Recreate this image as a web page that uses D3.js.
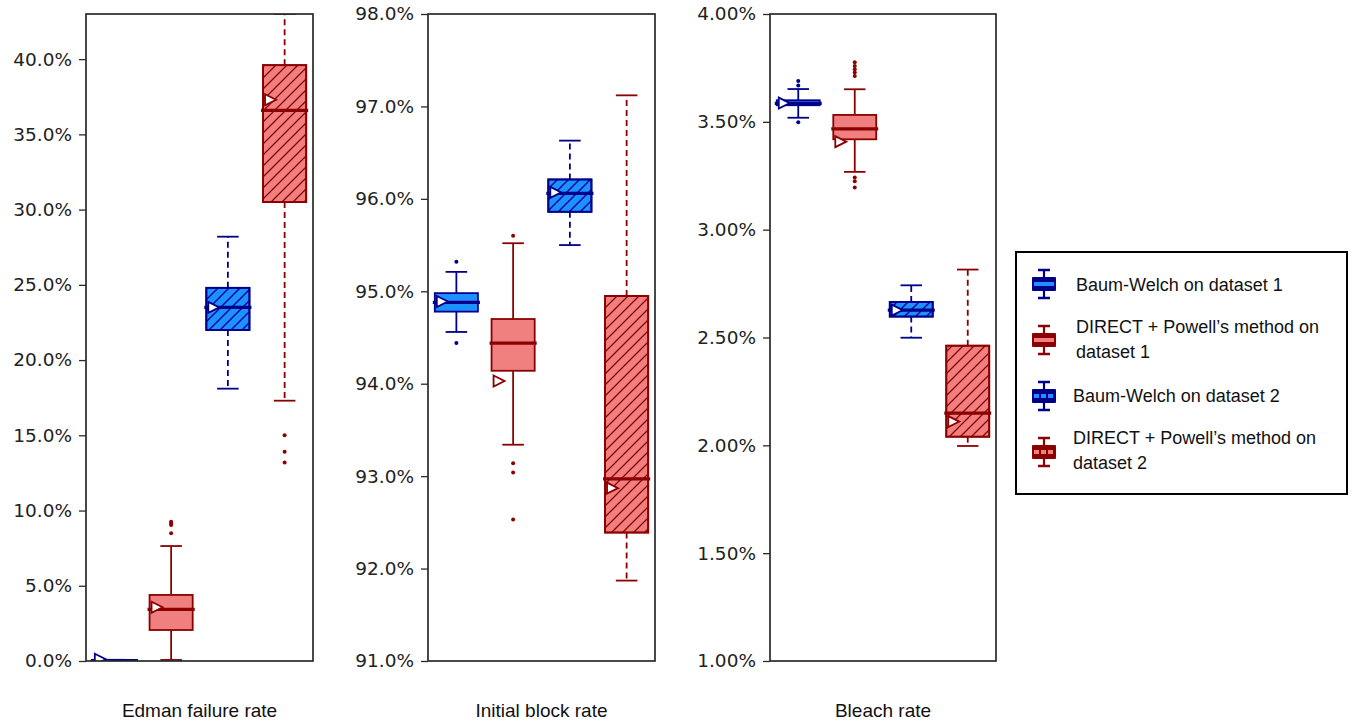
<!DOCTYPE html>
<html>
<head>
<meta charset="utf-8">
<script src="https://cdn.jsdelivr.net/npm/d3@7"></script>
<style>
  html, body { margin: 0; padding: 0; background: #fff; }
  svg { display: block; }
</style>
</head>
<body>
<svg id="chart" width="1357" height="721"></svg>
<script>
// ---------------- data ----------------
const panels = ["Edman failure rate", "Initial block rate", "Bleach rate"];
const seriesNames = [
  "Baum-Welch on dataset 1",
  "DIRECT + Powell\u2019s method on dataset 1",
  "Baum-Welch on dataset 2",
  "DIRECT + Powell\u2019s method on dataset 2"
];
const yDomains = [[0, 43], [91, 98], [1, 4]];
const yTicks = [
  [0, 5, 10, 15, 20, 25, 30, 35, 40],
  [91, 92, 93, 94, 95, 96, 97, 98],
  [1.0, 1.5, 2.0, 2.5, 3.0, 3.5, 4.0]
];
const tickDecimals = [1, 1, 2];

// per panel: [whisker low, Q1, median, Q3, whisker high, mean]  (values in %)
const bw1Stats = [
  [0.0, 0.0, 0.02, 0.05, 0.08, 0.12],
  [94.56, 94.78, 94.88, 94.98, 95.21, 94.89],
  [3.519, 3.577, 3.586, 3.600, 3.652, 3.587]
];
const dp1Stats = [
  [0.07, 2.06, 3.43, 4.39, 7.64, 3.57],
  [93.34, 94.14, 94.44, 94.70, 95.52, 94.03],
  [3.268, 3.419, 3.467, 3.532, 3.651, 3.408]
];
const bw2Stats = [
  [18.1, 22.0, 23.5, 24.8, 28.2, 23.5],
  [95.50, 95.86, 96.06, 96.21, 96.63, 96.07],
  [2.499, 2.597, 2.627, 2.665, 2.742, 2.627]
];
const dp2Stats = [
  [17.3, 30.5, 36.6, 39.6, 43.0, 37.3],
  [91.87, 92.39, 92.97, 94.95, 97.12, 92.87],
  [1.997, 2.040, 2.149, 2.462, 2.815, 2.110]
];
// outliers per panel
const bw1Fliers = [[], [95.32, 94.44], [3.689, 3.668, 3.498]];
const dp1Fliers = [[9.26, 9.15, 9.04, 8.49], [95.60, 93.14, 93.04, 92.53], [3.776, 3.759, 3.744, 3.729, 3.712, 3.242, 3.225, 3.195]];
const bw2Fliers = [[], [], []];
const dp2Fliers = [[15.0, 13.9, 13.2], [], []];

const allStats = [bw1Stats, dp1Stats, bw2Stats, dp2Stats];
const allFliers = [bw1Fliers, dp1Fliers, bw2Fliers, dp2Fliers];
const fillColors = ["#1e90ff", "#f08080", "#1e90ff", "#f08080"];
const edgeColors = ["#00008b", "#8b0000", "#00008b", "#8b0000"];
const hatched = [false, false, true, true];

// ---------------- layout ----------------
const svg = d3.select("#chart");
const panelX = [[86, 313], [428, 655], [770, 996]];
const plotTop = 14, plotBottom = 661;
const defs = svg.append("defs");
[0, 1].forEach(i => {
  const col = i === 0 ? "#00008b" : "#8b0000";
  const p = defs.append("pattern")
    .attr("id", "hatch" + i)
    .attr("patternUnits", "userSpaceOnUse")
    .attr("width", 11).attr("height", 11);
  p.append("path")
    .attr("d", "M-2,2 L2,-2 M0,11 L11,0 M9,13 L13,9")
    .attr("stroke", col).attr("stroke-width", 1.3).attr("fill", "none");
});

panels.forEach((name, pi) => {
  const [x0, x1] = panelX[pi];
  const y = d3.scaleLinear().domain(yDomains[pi]).range([plotBottom, plotTop]);
  const x = d3.scaleBand().domain(d3.range(4)).range([x0, x1]).paddingInner(0.24).paddingOuter(0.12);
  const bw = x.bandwidth();
  const g = svg.append("g");
  const clipId = "clip" + pi;
  defs.append("clipPath").attr("id", clipId)
    .append("rect").attr("x", x0).attr("y", plotTop).attr("width", x1 - x0).attr("height", plotBottom - plotTop);
  const plot = g.append("g").attr("clip-path", `url(#${clipId})`);

  allStats.forEach((stats, si) => {
    const [lo, q1, med, q3, hi, mean] = stats[pi];
    const cx = x(si) + bw / 2;
    const left = x(si), right = x(si) + bw;
    const ec = edgeColors[si], fc = fillColors[si];
    const dash = hatched[si] ? "6,4" : null;
    const sg = plot.append("g");
    // whiskers
    sg.append("line").attr("x1", cx).attr("x2", cx).attr("y1", y(q3)).attr("y2", y(hi))
      .attr("stroke", ec).attr("stroke-width", 1.8).attr("stroke-dasharray", dash);
    sg.append("line").attr("x1", cx).attr("x2", cx).attr("y1", y(q1)).attr("y2", y(lo))
      .attr("stroke", ec).attr("stroke-width", 1.8).attr("stroke-dasharray", dash);
    // caps
    [lo, hi].forEach(v => {
      sg.append("line").attr("x1", cx - bw / 4).attr("x2", cx + bw / 4).attr("y1", y(v)).attr("y2", y(v))
        .attr("stroke", ec).attr("stroke-width", 1.8);
    });
    // box
    sg.append("rect").attr("x", left).attr("y", y(q3)).attr("width", bw).attr("height", Math.max(0, y(q1) - y(q3)))
      .attr("fill", fc).attr("stroke", ec).attr("stroke-width", 1.8);
    if (hatched[si]) {
      sg.append("rect").attr("x", left).attr("y", y(q3)).attr("width", bw).attr("height", Math.max(0, y(q1) - y(q3)))
        .attr("fill", `url(#hatch${si === 2 ? 0 : 1})`).attr("stroke", ec).attr("stroke-width", 1.8);
    }
    // median
    sg.append("line").attr("x1", left - 2).attr("x2", right + 2).attr("y1", y(med)).attr("y2", y(med))
      .attr("stroke", ec).attr("stroke-width", 3.2);
    // fliers
    sg.selectAll("circle.fl").data(allFliers[si][pi]).join("circle")
      .attr("class", "fl").attr("cx", cx).attr("cy", d => y(d)).attr("r", 2).attr("fill", ec);
    // mean marker (right-pointing triangle)
    const mx = left + 7, my = y(mean);
    sg.append("path")
      .attr("d", `M${mx - 5},${my - 5.5} L${mx + 6},${my} L${mx - 5},${my + 5.5} Z`)
      .attr("fill", "#fff").attr("stroke", ec).attr("stroke-width", 1.8).attr("stroke-linejoin", "miter");
  });

  // axes frame
  g.append("rect").attr("x", x0).attr("y", plotTop).attr("width", x1 - x0).attr("height", plotBottom - plotTop)
    .attr("fill", "none").attr("stroke", "#2a2a2a").attr("stroke-width", 1.7);
  const axis = d3.axisLeft(y).tickValues(yTicks[pi]).tickSize(7).tickPadding(7)
    .tickFormat(d => d.toFixed(tickDecimals[pi]) + "%");
  const ag = g.append("g").attr("transform", `translate(${x0},0)`).call(axis);
  ag.select(".domain").remove();
  ag.selectAll(".tick line").attr("stroke", "#2a2a2a").attr("stroke-width", 1.3);
  ag.selectAll(".tick text").attr("font-family", "DejaVu Sans").attr("font-size", 18.5).attr("fill", "#222");
  // x label
  g.append("text").attr("x", (x0 + x1) / 2).attr("y", 717).attr("text-anchor", "middle")
    .attr("font-family", "Liberation Sans, Arial, sans-serif").attr("font-size", 19).attr("fill", "#111")
    .text(name);
});

// ---------------- legend ----------------
const lg = svg.append("g");
lg.append("rect").attr("x", 1016).attr("y", 252).attr("width", 331).attr("height", 242)
  .attr("fill", "#fff").attr("stroke", "#000").attr("stroke-width", 2);
const legendLines = [
  ["Baum-Welch on dataset 1"],
  ["DIRECT + Powell\u2019s method on", "dataset 1"],
  ["Baum-Welch on dataset 2"],
  ["DIRECT + Powell\u2019s method on", "dataset 2"]
];
const iconY = [284, 340, 396, 452];
const textY = [[291], [333, 358], [402], [444, 469]];
const textX = [1076, 1076, 1073, 1073];
legendLines.forEach((lines, i) => {
  const cy = iconY[i], cx = 1044, ec = edgeColors[i], fc = fillColors[i];
  const ig = lg.append("g");
  ig.append("line").attr("x1", cx).attr("x2", cx).attr("y1", cy - 14).attr("y2", cy + 14)
    .attr("stroke", ec).attr("stroke-width", 2.2);
  [cy - 14, cy + 14].forEach(v => ig.append("line").attr("x1", cx - 6).attr("x2", cx + 6)
    .attr("y1", v).attr("y2", v).attr("stroke", ec).attr("stroke-width", 2.5));
  ig.append("rect").attr("x", cx - 12).attr("y", cy - 7).attr("width", 24).attr("height", 14)
    .attr("fill", ec).attr("rx", 1);
  ig.append("line").attr("x1", cx - 10).attr("x2", cx + 10).attr("y1", cy).attr("y2", cy)
    .attr("stroke", fc).attr("stroke-width", 4)
    .attr("stroke-dasharray", hatched[i] ? "5,2" : null);
  lines.forEach((t, j) => {
    lg.append("text").attr("x", textX[i]).attr("y", textY[i][j])
      .attr("font-family", "Liberation Sans, Arial, sans-serif").attr("font-size", 18).attr("fill", "#111")
      .text(t);
  });
});
</script>
</body>
</html>
